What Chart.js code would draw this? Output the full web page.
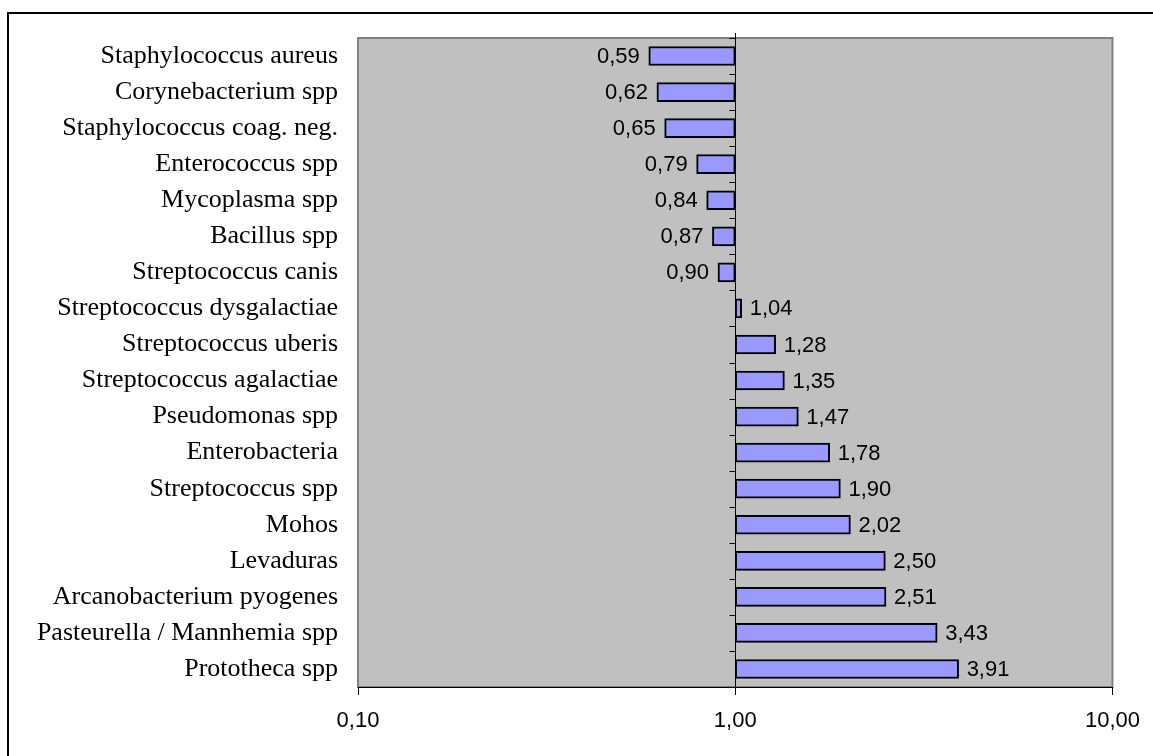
<!DOCTYPE html>
<html>
<head>
<meta charset="utf-8">
<script src="https://cdn.jsdelivr.net/npm/chart.js@4/dist/chart.umd.min.js"></script>
<style>
  html, body { margin: 0; padding: 0; background: #fff; }
  #wrap { width: 1153px; height: 756px; position: relative; }
</style>
</head>
<body>
<div id="wrap"><canvas id="ratioChart" width="1153" height="756"></canvas></div>
<script>
// Categories (top to bottom) and their ratios
const organisms = [
    'Staphylococcus aureus',
    'Corynebacterium spp',
    'Staphylococcus coag. neg.',
    'Enterococcus spp',
    'Mycoplasma spp',
    'Bacillus spp',
    'Streptococcus canis',
    'Streptococcus dysgalactiae',
    'Streptococcus uberis',
    'Streptococcus agalactiae',
    'Pseudomonas spp',
    'Enterobacteria',
    'Streptococcus spp',
    'Mohos',
    'Levaduras',
    'Arcanobacterium pyogenes',
    'Pasteurella / Mannhemia spp',
    'Prototheca spp'
];
const ratios = [0.59, 0.62, 0.65, 0.79, 0.84, 0.87, 0.90, 1.04, 1.28, 1.35, 1.47, 1.78, 1.90, 2.02, 2.50, 2.51, 3.43, 3.91];
const axisTicks = [0.1, 1, 10];
const baseValue = 1;

function fmt(v, d) {
    return v.toFixed(d).replace('.', ',');
}

// Gray plot area, outer frame
const backdrop = {
    id: 'backdrop',
    beforeDraw(chart) {
        const ctx = chart.ctx;
        const a = chart.chartArea;
        ctx.save();
        ctx.fillStyle = '#C0C0C0';
        ctx.fillRect(a.left, a.top, a.right - a.left, a.bottom - a.top);
        ctx.strokeStyle = '#808080';
        ctx.lineWidth = 2;
        ctx.strokeRect(a.left, a.top, a.right - a.left, a.bottom - a.top);
        // outer frame
        ctx.strokeStyle = '#000';
        ctx.lineWidth = 2;
        ctx.beginPath();
        ctx.moveTo(1153, 13);
        ctx.lineTo(8, 13);
        ctx.lineTo(8, 756);
        ctx.stroke();
        ctx.restore();
    }
};

// Category axis crossing at x = 1, with ticks between categories
const crossAxis = {
    id: 'crossAxis',
    afterDatasetsDraw(chart) {
        const ctx = chart.ctx;
        const a = chart.chartArea;
        const xs = chart.scales.x;
        const ys = chart.scales.y;
        const x0 = Math.round(xs.getPixelForValue(baseValue)) + 0.5;
        ctx.save();
        ctx.strokeStyle = '#000';
        ctx.lineWidth = 1;
        ctx.beginPath();
        ctx.moveTo(x0, a.top - 5);
        ctx.lineTo(x0, a.bottom);
        const step = ys.getPixelForValue(1) - ys.getPixelForValue(0);
        for (let i = 0; i < organisms.length; i++) {
            const y = Math.round(ys.getPixelForValue(i) - step / 2) + 0.5;
            ctx.moveTo(x0 - 6, y);
            ctx.lineTo(x0, y);
        }
        ctx.stroke();

        // value labels
        ctx.fillStyle = '#000';
        ctx.font = '22px "Liberation Sans", Arial, sans-serif';
        ctx.textBaseline = 'middle';
        ratios.forEach((v, i) => {
            const px = xs.getPixelForValue(v);
            const py = ys.getPixelForValue(i);
            if (v < baseValue) {
                ctx.textAlign = 'right';
                ctx.fillText(fmt(v, 2), px - 9, py + 1);
            } else {
                ctx.textAlign = 'left';
                ctx.fillText(fmt(v, 2), px + 8, py + 1);
            }
        });
        ctx.restore();
    }
};

const ctx = document.getElementById('ratioChart').getContext('2d');
new Chart(ctx, {
    type: 'bar',
    data: {
        labels: organisms,
        datasets: [{
            data: ratios.map(v => [baseValue, v]),
            backgroundColor: '#9999FF',
            borderColor: '#000000',
            borderWidth: 2,
            borderSkipped: false,
            barThickness: 19
        }]
    },
    options: {
        indexAxis: 'y',
        responsive: false,
        animation: false,
        layout: { padding: { left: 0, top: 38, right: 40, bottom: 0 } },
        plugins: {
            legend: { display: false },
            tooltip: { enabled: false }
        },
        scales: {
            x: {
                type: 'logarithmic',
                min: 0.1,
                max: 10,
                afterBuildTicks(scale) {
                    scale.ticks = axisTicks.map(v => ({ value: v }));
                },
                afterFit(scale) { scale.height = 69; },
                border: { display: true, color: '#000', width: 1 },
                grid: {
                    drawOnChartArea: false,
                    drawTicks: true,
                    tickLength: 8,
                    color: '#000'
                },
                ticks: {
                    autoSkip: false,
                    maxRotation: 0,
                    padding: 13,
                    color: '#000',
                    font: { family: '"Liberation Sans", Arial, sans-serif', size: 22 },
                    callback: v => fmt(v, 2)
                }
            },
            y: {
                afterFit(scale) { scale.width = 358; },
                border: { display: false },
                grid: { display: false },
                ticks: {
                    padding: 12,
                    color: '#000',
                    font: { family: '"Liberation Serif", "Times New Roman", serif', size: 26 }
                }
            }
        }
    },
    plugins: [backdrop, crossAxis]
});
</script>
</body>
</html>
